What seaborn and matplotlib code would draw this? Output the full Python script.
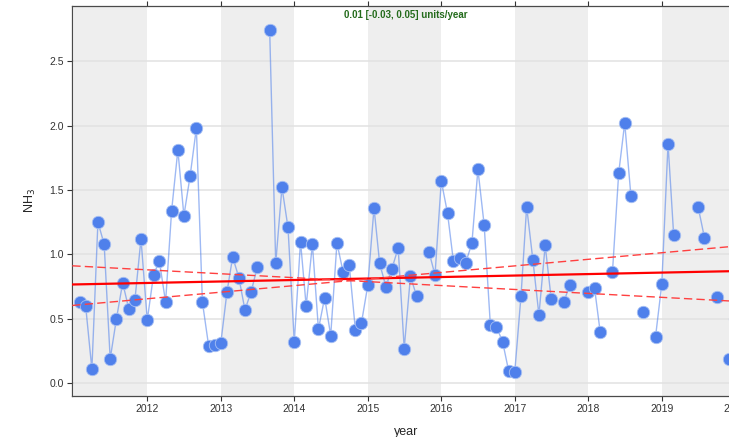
import numpy as np
import pandas as pd
import seaborn as sns
import matplotlib.pyplot as plt

nan = np.nan

# monthly NH3 means, Feb 2011 .. Jan 2020 (nan = missing month)
start_month = "2011-02-01"
nh3 = [0.63, 0.60, 0.11, 1.25, 1.08, 0.19, 0.50, 0.78, 0.58, 0.65, 1.12,   # 2011
       0.49, 0.84, 0.95, 0.63, 1.34, 1.81, 1.30, 1.61, 1.98, 0.63, 0.29, 0.30,   # 2012
       0.31, 0.71, 0.98, 0.82, 0.57, 0.71, 0.90, nan, 2.74, 0.93, 1.52, 1.21,   # 2013
       0.32, 1.10, 0.60, 1.08, 0.42, 0.665, 0.37, 1.09, 0.86, 0.92, 0.41, 0.47,  # 2014
       0.76, 1.36, 0.93, 0.75, 0.89, 1.05, 0.27, 0.83, 0.675, nan, 1.02, 0.84,  # 2015
       1.57, 1.32, 0.95, 0.975, 0.935, 1.085, 1.66, 1.23, 0.45, 0.44, 0.32, 0.095,  # 2016
       0.09, 0.68, 1.37, 0.955, 0.53, 1.07, 0.655, nan, 0.63, 0.76, nan, nan,  # 2017
       0.71, 0.74, 0.40, nan, 0.86, 1.63, 2.02, 1.45, nan, 0.555, nan, 0.36,  # 2018
       0.77, 1.86, 1.15, nan, nan, nan, 1.365, 1.13, nan, 0.67, nan, 0.19,  # 2019
       0.50]  # 2020

# Theil-Sen trend: value at start of 2011 and slope (units/year)
trend_names = ["slope", "lower", "upper"]
trend_start = [0.767, 0.911, 0.605]
trend_slope = [0.0115, -0.0305, 0.051]
slope_text = "0.01 [-0.03, 0.05] units/year"

year_ticks = [2012, 2013, 2014, 2015, 2016, 2017, 2018, 2019, 2020]
shade_years = [2011, 2013, 2015, 2017, 2019]
y_ticks = [0.0, 0.5, 1.0, 1.5, 2.0, 2.5]

dates = pd.date_range(start_month, periods=len(nh3), freq="MS")
df = pd.DataFrame({"year": dates.year + (dates.dayofyear - 1) / 365.25, "nh3": nh3})
# split into runs so gaps stay gaps
df["seg"] = df["nh3"].isna().cumsum()
df = df.dropna()

sns.set_style("white")
plt.rcParams["font.family"] = ["Liberation Sans", "DejaVu Sans"]

fig = plt.figure(figsize=(7.29, 4.37), dpi=100)
ax = fig.add_axes([72.3 / 729, 41.3 / 437, 667.7 / 729, 389.7 / 437])

x0, x1 = 2010.98, 2020.064
ax.set_xlim(x0, x1)
ax.set_ylim(-0.096, 2.927)

for yr in shade_years:
    ax.axvspan(yr, yr + 1, color="#eeeeee", lw=0, zorder=0)
for yv in y_ticks:
    ax.axhline(yv, color="#e2e2e2", lw=1.1, zorder=0.5)

blue = "#4f80eb"
sns.lineplot(data=df, x="year", y="nh3", units="seg", estimator=None,
             color=blue, alpha=0.55, lw=1, ax=ax, zorder=2)
sns.scatterplot(data=df, x="year", y="nh3", color=blue, s=80,
                edgecolor="#a9c1f3", linewidth=0.6, ax=ax, zorder=3)

xs = np.array([x0, x1])
for name, b, m in zip(trend_names, trend_start, trend_slope):
    ys = b + m * (xs - 2011)
    if name == "slope":
        ax.plot(xs, ys, color="red", lw=1.6, zorder=4)
    else:
        ax.plot(xs, ys, color="#ff4040", lw=1, dashes=(6, 3), zorder=4)

ax.text(0.5, 0.977, slope_text, transform=ax.transAxes, ha="center", va="center",
        color="#236b1b", fontsize=7, fontweight="bold")

ax.set_xticks(year_ticks)
ax.set_xticklabels([str(y) for y in year_ticks])
ax.set_yticks(y_ticks)
ax.set_yticklabels(["%.1f" % v for v in y_ticks])
ax.tick_params(axis="both", direction="out", length=3.8, width=0.8,
               colors="#333333", labelsize=7.5, pad=2.5)
ax.tick_params(axis="x", top=True, labeltop=False, bottom=True)
ax.tick_params(axis="y", left=True, right=False)
for sp in ax.spines.values():
    sp.set_color("#4a4a4a")
    sp.set_linewidth(0.9)

ax.set_xlabel("year", fontsize=9, labelpad=8)
ax.set_ylabel("NH$_3$", fontsize=9, labelpad=8)

fig.savefig("out.png", dpi=100)
